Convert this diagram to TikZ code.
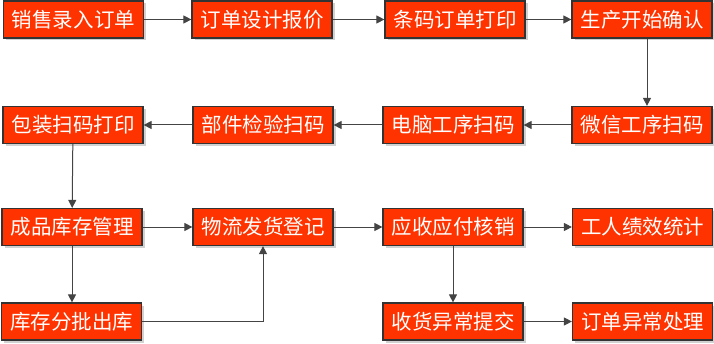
\documentclass[tikz,border=0pt]{standalone}
\usepackage{fontspec}
\newfontfamily\cjk{Noto Sans CJK SC}
\usetikzlibrary{arrows.meta,shadows}
\definecolor{boxred}{HTML}{FF3300}
\definecolor{edgegray}{HTML}{333333}
\definecolor{arrowgray}{HTML}{444444}
\begin{document}
\begin{tikzpicture}[x=1pt,y=1pt,
  box/.style={draw=edgegray,line width=1.2pt,fill=boxred,minimum width=140pt,minimum height=37pt,
    inner sep=0pt,text=white,font=\cjk\fontsize{20.5}{20.5}\selectfont,
    drop shadow={shadow xshift=2.5pt,shadow yshift=-2.5pt,fill=black!18,opacity=1}},
  link/.style={draw=arrowgray,line width=1pt,-{Triangle[length=8pt,width=8pt]}}]
\useasboundingbox (0,0) rectangle (714,343);
% rows (tikz y = 343 - image y)
\node[box] (a1) at (73.5,323.5) {销售录入订单};
\node[box] (a2) at (262,323.5) {订单设计报价};
\node[box] (a3) at (455,323.5) {条码订单打印};
\node[box] (a4) at (642,323.5) {生产开始确认};
\node[box] (b1) at (73,218) {包装扫码打印};
\node[box] (b2) at (263,218) {部件检验扫码};
\node[box] (b3) at (453,218) {电脑工序扫码};
\node[box] (b4) at (642,218) {微信工序扫码};
\node[box] (c1) at (72,116) {成品库存管理};
\node[box] (c2) at (263,116) {物流发货登记};
\node[box] (c3) at (453,116) {应收应付核销};
\node[box] (c4) at (642.5,116) {工人绩效统计};
\node[box] (d1) at (71.5,21.5) {库存分批出库};
\node[box] (d3) at (453,21.5) {收货异常提交};
\node[box] (d4) at (642.5,21.5) {订单异常处理};
% connectors
\draw[link] (a1) -- (a2);
\draw[link] (a2) -- (a3);
\draw[link] (a3) -- (a4);
\draw[link] ([xshift=5pt]a4.south) -- ([xshift=5pt]b4.north);
\draw[link] (b4) -- (b3);
\draw[link] (b3) -- (b2);
\draw[link] (b2) -- (b1);
\draw[link] (b1) -- (c1);
\draw[link] (c1) -- (c2);
\draw[link] (c2) -- (c3);
\draw[link] (c3) -- (c4);
\draw[link] (c1) -- (d1.north -| c1);
\draw[link] (d1.east) -| (c2.south);
\draw[link] (c3) -- (d3.north -| c3);
\draw[link] (d3) -- (d4);
\end{tikzpicture}
\end{document}
